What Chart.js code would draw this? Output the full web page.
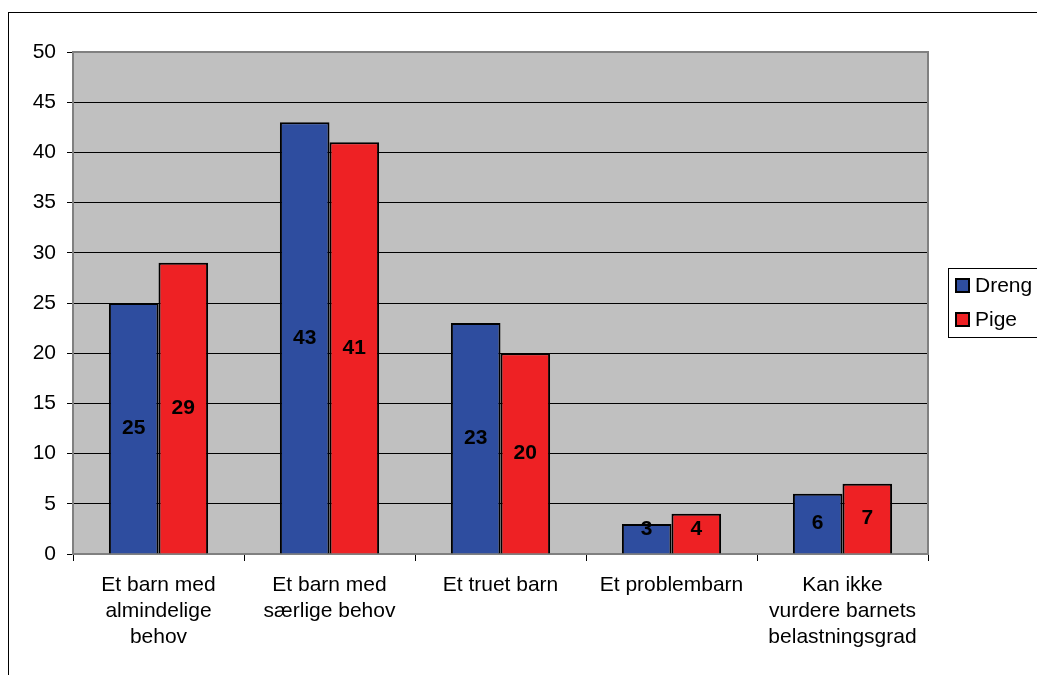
<!DOCTYPE html>
<html>
<head>
<meta charset="utf-8">
<script src="https://cdn.jsdelivr.net/npm/chart.js@4/dist/chart.umd.min.js"></script>
<style>
  html, body { margin: 0; padding: 0; background: #fff; }
  #wrap { width: 1037px; height: 675px; }
</style>
</head>
<body>
<div id="wrap"><canvas id="chart" width="1037" height="675"></canvas></div>
<script>
const categories = [
    ["Et barn med", "almindelige", "behov"],
    ["Et barn med", "særlige behov"],
    "Et truet barn",
    "Et problembarn",
    ["Kan ikke", "vurdere barnets", "belastningsgrad"]
];
const drengValues = [25, 43, 23, 3, 6];
const pigeValues = [29, 41, 20, 4, 7];
const seriesNames = ["Dreng", "Pige"];
const yTicks = [0, 5, 10, 15, 20, 25, 30, 35, 40, 45, 50];

const colors = {
    dreng: "#2E4D9F",
    pige: "#EE2124",
    plot: "#C0C0C0",
    frame: "#808080"
};

Chart.defaults.font.family = "'Liberation Sans', Arial, sans-serif";
Chart.defaults.font.size = 21;
Chart.defaults.color = "#000";

// grey plot area + outer frame
const backdrop = {
    id: "backdrop",
    beforeDraw(chart) {
        const { ctx, chartArea: a } = chart;
        ctx.save();
        ctx.strokeStyle = "#000";
        ctx.lineWidth = 1;
        ctx.strokeRect(8.5, 12.5, 1100, 700);
        ctx.fillStyle = colors.plot;
        ctx.fillRect(a.left, a.top, a.right - a.left, a.bottom - a.top);
        ctx.restore();
    },
    beforeDatasetsDraw(chart) {
        const { ctx, chartArea: a } = chart;
        ctx.save();
        ctx.strokeStyle = colors.frame;
        ctx.lineWidth = 2;
        ctx.strokeRect(a.left, a.top, a.right - a.left, a.bottom - a.top);
        ctx.restore();
    }
};

const barLabels = {
    id: "barLabels",
    afterDatasetsDraw(chart) {
        const { ctx } = chart;
        ctx.save();
        ctx.font = "bold 21px 'Liberation Sans', Arial, sans-serif";
        ctx.fillStyle = "#000";
        ctx.textAlign = "center";
        ctx.textBaseline = "middle";
        chart.data.datasets.forEach((ds, i) => {
            chart.getDatasetMeta(i).data.forEach((bar, j) => {
                const mid = (bar.y + bar.base) / 2;
                const y = Math.min(mid, bar.base - 24);
                ctx.fillText(ds.data[j], bar.x, y);
            });
        });
        ctx.restore();
    }
};

const boxLegend = {
    id: "boxLegend",
    afterDraw(chart) {
        const { ctx } = chart;
        const x = 948, y = 268;
        ctx.save();
        ctx.fillStyle = "#fff";
        ctx.fillRect(x, y, 100, 69);
        ctx.strokeStyle = "#000";
        ctx.lineWidth = 1;
        ctx.strokeRect(x + 0.5, y + 0.5, 100, 69);
        ctx.font = "21px 'Liberation Sans', Arial, sans-serif";
        ctx.textBaseline = "middle";
        chart.data.datasets.forEach((ds, i) => {
            const cy = y + 18 + i * 34;
            ctx.fillStyle = ds.backgroundColor;
            ctx.fillRect(x + 8, cy - 7, 13, 13);
            ctx.strokeStyle = "#000";
            ctx.lineWidth = 2;
            ctx.strokeRect(x + 8, cy - 7, 13, 13);
            ctx.fillStyle = "#000";
            ctx.fillText(ds.label, x + 27, cy);
        });
        ctx.restore();
    }
};

new Chart(document.getElementById("chart"), {
    type: "bar",
    data: {
        labels: categories,
        datasets: [
            { label: seriesNames[0], data: drengValues, backgroundColor: colors.dreng, borderColor: "#000", borderWidth: 2 },
            { label: seriesNames[1], data: pigeValues, backgroundColor: colors.pige, borderColor: "#000", borderWidth: 2 }
        ]
    },
    options: {
        responsive: false,
        animation: false,
        layout: { padding: { top: 52, right: 109, left: 0, bottom: 0 } },
        datasets: { bar: { categoryPercentage: 0.58, barPercentage: 1 } },
        scales: {
            x: {
                afterFit: s => { s.height = 121; },
                grid: { offset: true, drawOnChartArea: false, drawTicks: true, tickLength: 7, color: "#000" },
                border: { color: "#000", width: 1 },
                ticks: { padding: 11, font: { size: 21, lineHeight: 1.25 }, maxRotation: 0, autoSkip: false }
            },
            y: {
                min: 0,
                max: 50,
                afterFit: s => { s.width = 73; },
                afterBuildTicks: s => { s.ticks = yTicks.map(v => ({ value: v })); },
                grid: {
                    color: c => (c.index === 0 || c.index === yTicks.length - 1) ? colors.frame : "#000",
                    tickColor: "#000",
                    tickLength: 6,
                    lineWidth: 1
                },
                border: { color: colors.frame, width: 2 },
                ticks: { padding: 11, font: { size: 21 } }
            }
        },
        plugins: {
            legend: { display: false },
            tooltip: { enabled: false }
        }
    },
    plugins: [backdrop, barLabels, boxLegend]
});
</script>
</body>
</html>
